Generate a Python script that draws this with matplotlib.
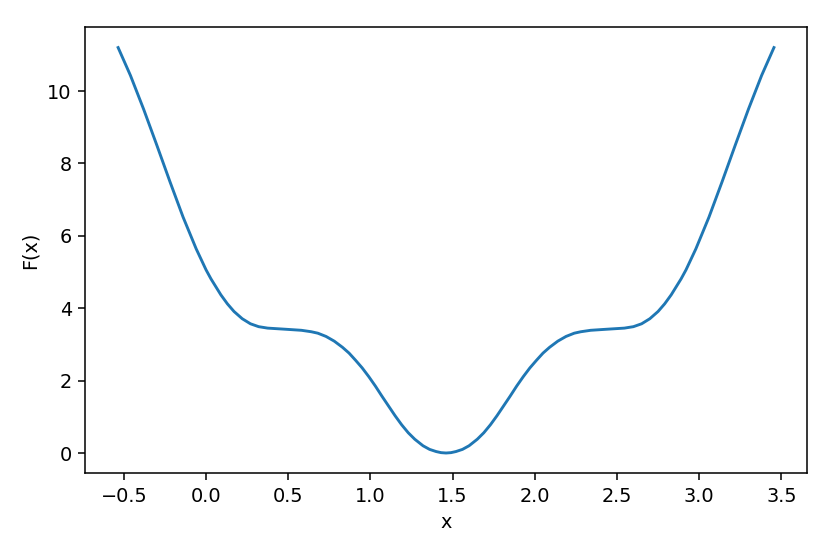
import matplotlib
matplotlib.use("Agg")
import matplotlib.pyplot as plt

# values (left branch, minimum, right branch)
x_vals = [-0.535, -0.46, -0.38, -0.30, -0.22, -0.14, -0.06, 0.00, 0.03, 0.09,
          0.13, 0.17, 0.22, 0.27, 0.32, 0.375, 0.48, 0.58, 0.64, 0.68,
          0.73, 0.78, 0.83, 0.87, 0.91, 0.95, 0.99, 1.03, 1.07, 1.11,
          1.15, 1.19, 1.23, 1.27, 1.32, 1.36, 1.40, 1.43, 1.46,
          1.49, 1.52, 1.56, 1.60, 1.65, 1.69, 1.73, 1.77, 1.81, 1.85,
          1.89, 1.93, 1.97, 2.01, 2.05, 2.09, 2.14, 2.19, 2.24, 2.28,
          2.34, 2.44, 2.545, 2.60, 2.65, 2.70, 2.75, 2.79, 2.83, 2.89,
          2.92, 2.98, 3.06, 3.14, 3.22, 3.30, 3.38, 3.455]
f_vals = [11.2, 10.43, 9.50, 8.51, 7.50, 6.52, 5.64, 5.06, 4.81, 4.37,
          4.12, 3.91, 3.71, 3.57, 3.49, 3.45, 3.42, 3.39, 3.35, 3.31,
          3.22, 3.09, 2.92, 2.76, 2.56, 2.35, 2.11, 1.85, 1.57, 1.30,
          1.03, 0.78, 0.56, 0.38, 0.20, 0.10, 0.04, 0.01, 0.0,
          0.01, 0.04, 0.10, 0.20, 0.38, 0.56, 0.78, 1.03, 1.30, 1.57,
          1.85, 2.11, 2.35, 2.56, 2.76, 2.92, 3.09, 3.22, 3.31, 3.35,
          3.39, 3.42, 3.45, 3.49, 3.57, 3.71, 3.91, 4.12, 4.37, 4.81,
          5.06, 5.64, 6.52, 7.50, 8.51, 9.50, 10.43, 11.2]

fig = plt.figure(figsize=(6.0, 4.005), dpi=138.33)
ax = fig.add_axes([0.1028, 0.1457, 0.8692, 0.805])
ax.plot(x_vals, f_vals)
ax.set_xlabel('x')
ax.set_ylabel('F(x)')

fig.savefig('out.png', dpi=138.33)
